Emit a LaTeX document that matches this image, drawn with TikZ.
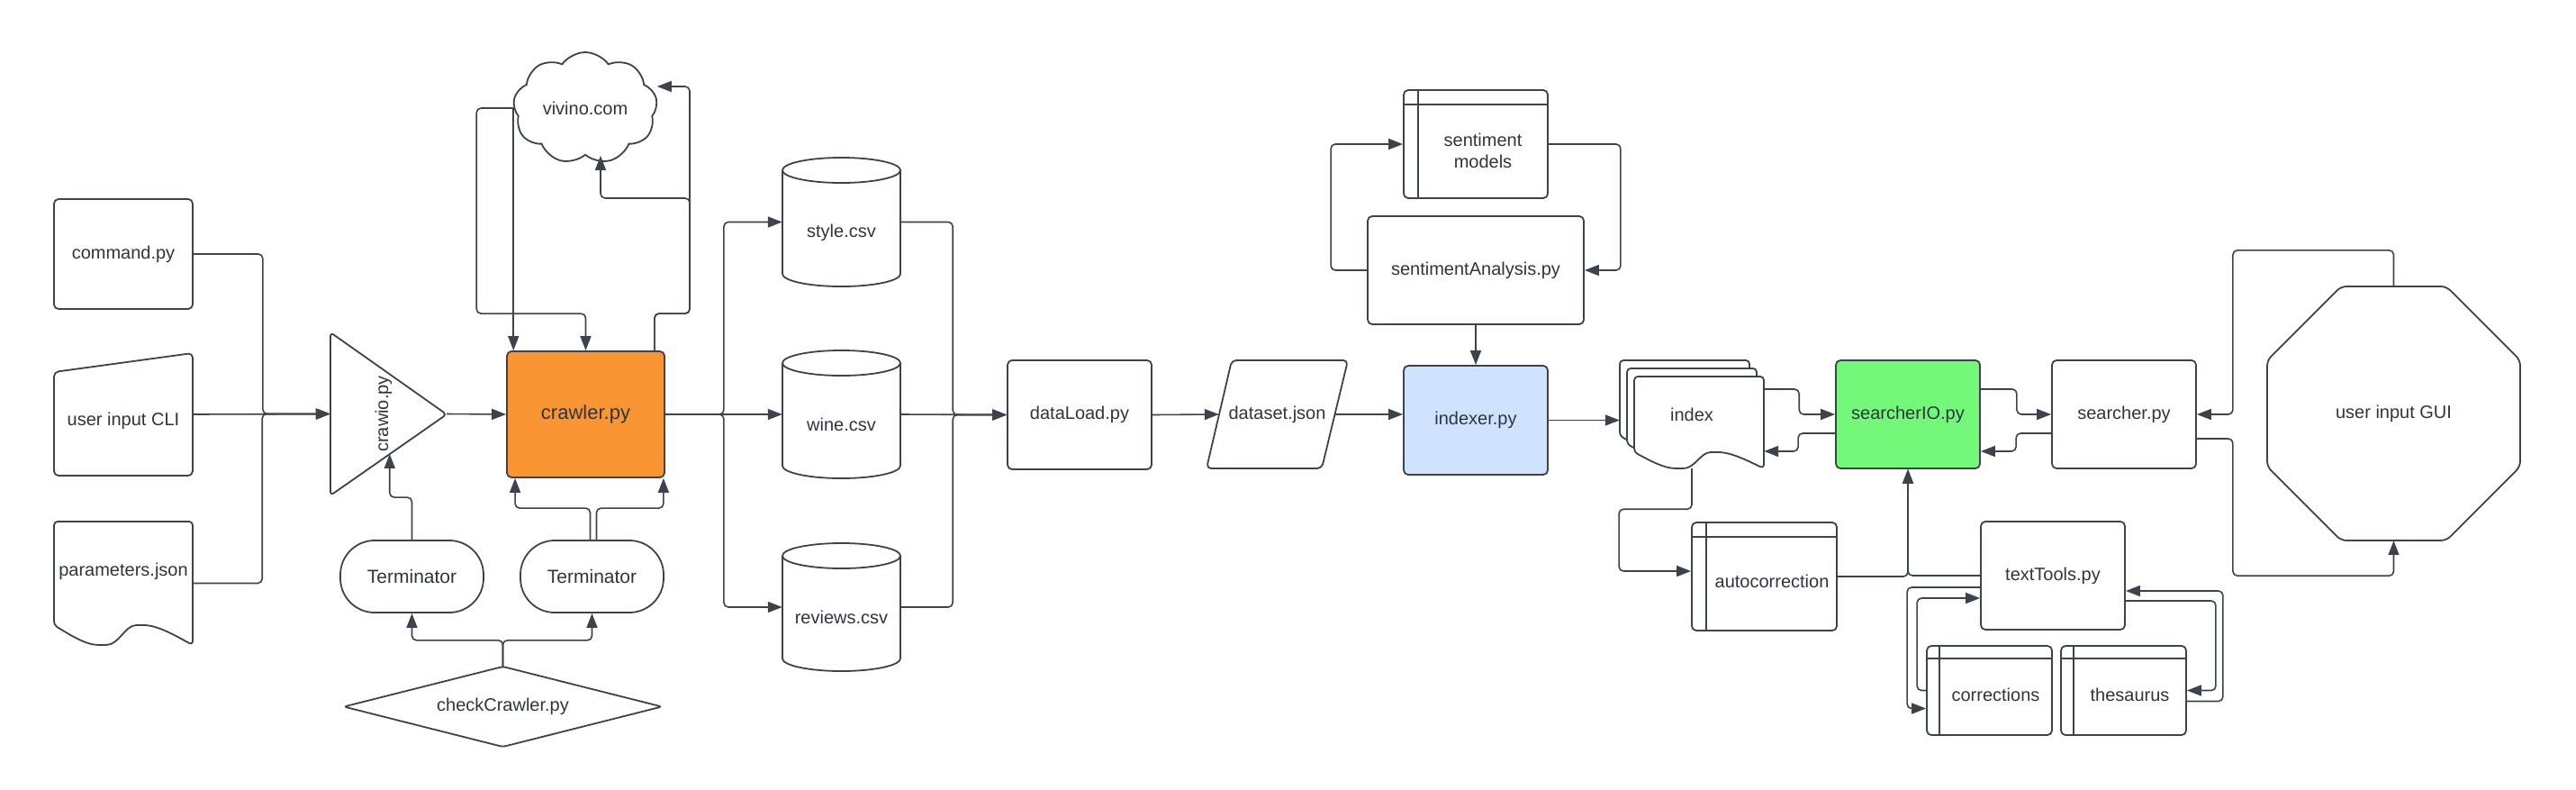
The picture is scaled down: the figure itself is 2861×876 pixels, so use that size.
\documentclass[tikz,border=0pt]{standalone}
\usepackage{fontspec}
\setmainfont{Liberation Sans}
\usetikzlibrary{arrows.meta,shapes.symbols,calc}
\definecolor{lc}{HTML}{3D434C}
\definecolor{tc}{HTML}{2F3540}
\definecolor{orng}{HTML}{F99633}
\definecolor{lblue}{HTML}{CFE2FF}
\definecolor{lgreen}{HTML}{73F87A}
\newcommand\dfont{\fontsize{20}{24}\selectfont}
\newcommand\docshape[5]{%
 \path[shp, rounded corners=4pt] (#1,#2) -- (#1,{#4-#5}) .. controls ({#1+0.13*(#3-#1)},{#4-0.45*#5}) and ({#1+0.23*(#3-#1)},#4) .. ({#1+0.35*(#3-#1)},#4) .. controls ({#1+0.47*(#3-#1)},#4) and ({#1+0.51*(#3-#1)},{#4-#5}) .. ({#1+0.62*(#3-#1)},{#4-#5}) .. controls ({#1+0.75*(#3-#1)},{#4-#5}) and ({#1+0.88*(#3-#1)},{#4-0.45*#5}) .. (#3,#4) -- (#3,#2) -- cycle;}
\newcommand\cyl[5]{%
 \path[shp] (#1,{#2+#5}) -- (#1,{#4-#5}) arc[start angle=180,end angle=0,x radius={(#3-#1)/2},y radius=#5] -- (#3,{#2+#5}) arc[start angle=0,end angle=-180,x radius={(#3-#1)/2},y radius=#5] -- cycle;
 \draw[shpl] (#1,{#2+#5}) arc[start angle=180,end angle=0,x radius={(#3-#1)/2},y radius=#5];}
\begin{document}
\begin{tikzpicture}[x=1pt,y=-1pt,
 shp/.style={draw=lc, line width=1.8pt, fill=white, line join=round},
 shpl/.style={draw=lc, line width=1.8pt},
 ghost/.style={inner sep=0pt, text=tc, font=\dfont, align=center},
 proc/.style={ghost, draw=lc, line width=1.8pt, rounded corners=5pt},
 store/.style={proc, path picture={
   \draw[lc, line width=1.6pt] ([xshift=#1]path picture bounding box.north west) -- ([xshift=#1]path picture bounding box.south west);
   \draw[lc, line width=1.6pt] ([yshift=-#1]path picture bounding box.north west) -- ([yshift=-#1]path picture bounding box.north east);}},
 store/.default=16pt,
 every label/.style={inner sep=0pt, text=tc, font=\dfont, align=center},
 conn/.style={draw=lc, line width=1.6pt, rounded corners=5pt, line join=round, -{Triangle[length=16pt,width=12pt]}}
]
\fill[white] (0,0) rectangle (2861,876);
\useasboundingbox (0,0) rectangle (2861,876);

% ---------- outlines of custom shapes ----------
\path[shp, rounded corners=5pt] (60,413) -- (214,392) -- (214,528) -- (60,528) -- cycle;
\docshape{60}{579}{214}{716}{22}
\path[shp, rounded corners=4pt] (367,369) -- (496,460) -- (367,550) -- cycle;
\path[shp, rounded corners=3pt] (382,784.5) -- (558.5,740) -- (735,784.5) -- (558.5,829) -- cycle;
\cyl{869}{175}{1000}{318}{14}
\cyl{869}{389}{1000}{531}{14}
\cyl{869}{603}{1000}{745}{14}
\path[shp, rounded corners=5pt] (1368,400) -- (1497,400) -- (1468,520) -- (1340,520) -- cycle;
\docshape{1799}{400}{1943}{502}{18}
\docshape{1807}{409}{1951}{511}{18}
\docshape{1815}{418}{1959}{520}{18}
\path[shp, rounded corners=6pt] (2600,318) -- (2717,318) -- (2799,400) -- (2799,518) -- (2717,600) -- (2600,600) -- (2518,518) -- (2518,400) -- cycle;

% ---------- nodes ----------
\node[proc, minimum width=154pt, minimum height=122pt] (command) at (137,282) {command.py};
\node[ghost, minimum width=154pt, minimum height=136pt, label={[yshift=-7pt]center:user input CLI}] (cli) at (137,460) {};
\node[ghost, minimum width=154pt, minimum height=137pt, label={[yshift=13.5pt]center:parameters.json}] (params) at (137,647.5) {};
\node[ghost, minimum width=129pt, minimum height=181pt, label={[xshift=-5.5pt]center:\rotatebox{90}{crawio.py}}] (crawio) at (431.5,459.5) {};
\node[proc, fill=orng, minimum width=175pt, minimum height=140pt, font=\fontsize{22}{26}\selectfont] (crawler) at (650.5,460) {crawler.py};
\node[cloud, draw=lc, line width=1.8pt, cloud puffs=9, cloud puff arc=110, aspect=1.3, minimum width=160pt, minimum height=124pt, inner sep=0pt, text=tc, font=\dfont] (cloud) at (650,120) {vivino.com};
\node[proc, rounded corners=38pt, minimum width=159pt, minimum height=80pt, font=\fontsize{21}{25}\selectfont] (T1) at (457.5,640) {Terminator};
\node[proc, rounded corners=38pt, minimum width=159pt, minimum height=80pt, font=\fontsize{21}{25}\selectfont] (T2) at (657.5,640) {Terminator};
\node[ghost, minimum width=353pt, minimum height=89pt] (check) at (558.5,784.5) {checkCrawler.py};
\node[ghost, minimum width=131pt, minimum height=143pt, label={[yshift=-11.5pt]center:style.csv}] (style) at (934.5,246.5) {};
\node[ghost, minimum width=131pt, minimum height=142pt, label={[yshift=-11pt]center:wine.csv}] (wine) at (934.5,460) {};
\node[ghost, minimum width=131pt, minimum height=142pt, label={[yshift=-11pt]center:reviews.csv}] (reviews) at (934.5,674) {};
\node[proc, minimum width=160pt, minimum height=121pt] (dataLoad) at (1199,460.5) {dataLoad.py};
\node[ghost, minimum width=157pt, minimum height=120pt] (dataset) at (1418.5,460) {dataset.json};
\node[proc, fill=lblue, minimum width=160pt, minimum height=121pt] (indexer) at (1639,466.5) {indexer.py};
\node[proc, minimum width=240pt, minimum height=120pt] (sentA) at (1639,300) {sentimentAnalysis.py};
\node[store, minimum width=160pt, minimum height=120pt, label={[xshift=8pt,yshift=-7pt]center:{sentiment\\models}}] (models) at (1639,160) {};
\node[ghost, minimum width=160pt, minimum height=120pt] (index) at (1879,460) {index};
\node[proc, fill=lgreen, minimum width=160pt, minimum height=120pt] (searcherIO) at (2119,460) {searcherIO.py};
\node[proc, minimum width=160pt, minimum height=120pt] (searcher) at (2359,460) {searcher.py};
\node[ghost, minimum width=281pt, minimum height=282pt] (gui) at (2658.5,459) {user input GUI};
\node[store, minimum width=161pt, minimum height=120pt, label={[xshift=8.5pt,yshift=-5pt]center:autocorrection}] (autocorr) at (1959.5,640) {};
\node[proc, minimum width=160pt, minimum height=120pt] (textTools) at (2280,639) {textTools.py};
\node[store=14pt, minimum width=139pt, minimum height=99pt, label={[xshift=7pt,yshift=-4.5pt]center:corrections}] (corrections) at (2209.5,766.5) {};
\node[store=14pt, minimum width=139pt, minimum height=99pt, label={[xshift=7pt,yshift=-4.5pt]center:thesaurus}] (thesaurus) at (2358.5,766.5) {};

% ---------- connectors ----------
\draw[conn] (command.east) -- ++(77,0) |- (crawio.west);
\draw[conn] (cli.east) -- (crawio.west);
\draw[conn] (params.east) -- ++(77,0) |- (crawio.west);
\draw[conn] (crawio.east) -- (crawler.west);
\draw[conn] (T1.north) -- ++(0,-47) -| ($(crawio.south west)!0.51!(crawio.east)$);
\draw[conn] ([xshift=-2pt]T2.north) -- ++(0,-35) -| ([xshift=10pt]crawler.south west);
\draw[conn] ([xshift=5pt]T2.north) -- ++(0,-35) -| ([xshift=-2pt]crawler.south east);
\draw[conn] (check.north) -- ++(0,-29) -| (T1.south);
\draw[conn] (check.north) -- ++(0,-29) -| (T2.south);
\draw[conn] (cloud.west) -- ++(-41,0) |- ($(crawler.north)+(0,-41)$) -- (crawler.north);
\draw[conn] (cloud.west) -- (cloud.west |- crawler.north);
\draw[conn] ([xshift=-12pt]crawler.north east) -- ++(0,-41) -| (766,96) -- ([yshift=24pt]cloud.east);
\draw[conn] ([xshift=-12pt]crawler.north east) -- ++(0,-41) -| (766,220) -| ([xshift=17pt]cloud.south);
\draw[conn] (crawler.east) -- ++(65,0) |- (style.west);
\draw[conn] (crawler.east) -- (wine.west);
\draw[conn] (crawler.east) -- ++(65,0) |- (reviews.west);
\draw[conn] (style.east) -- ++(58,0) |- (dataLoad.west);
\draw[conn] (wine.east) -- (dataLoad.west);
\draw[conn] (reviews.east) -- ++(58,0) |- (dataLoad.west);
\draw[conn] (dataLoad.east) -- ([xshift=14pt]dataset.west);
\draw[conn] ([xshift=-14pt]dataset.east) -- (dataset.east -| indexer.west);
\draw[conn] (sentA.south) -- (indexer.north);
\draw[conn] (sentA.west) -- ++(-40,0) |- (models.west);
\draw[conn] (models.east) -- ++(80,0) |- (sentA.east);
\draw[conn] (indexer.east) -- (indexer.east -| index.west);
\draw[conn] ([yshift=28pt]index.east) -- ++(39,0) |- (searcherIO.west);
\draw[conn] ([yshift=-21pt]searcherIO.west) -- ++(-41,0) |- ([yshift=-41pt]index.east);
\draw[conn] ([yshift=28pt]searcherIO.east) -- ++(40,0) |- (searcher.west);
\draw[conn] ([yshift=-21pt]searcher.west) -- ++(-39,0) |- ([yshift=-41pt]searcherIO.east);
\draw[conn] (gui.north) -- ++(0,-40) -| ($(searcher.east)+(40,0)$) -- (searcher.east);
\draw[conn] ([yshift=-27pt]searcher.east) -- ++(40,0) |- ($(gui.south)+(0,39)$) -- (gui.south);
\draw[conn] (index.south) -- ++(0,45) -| ([xshift=-80pt,yshift=6pt]autocorr.west) -- ([yshift=6pt]autocorr.west);
\draw[conn] (autocorr.east) -| (searcherIO.south);
\draw[conn] (textTools.west) -| (searcherIO.south);
\draw[conn] ([yshift=-13pt]textTools.west) -- ++(-81,0) |- ([yshift=-20pt]corrections.west);
\draw[conn] (corrections.west) -- ++(-10,0) |- ([yshift=-25pt]textTools.west);
\draw[conn] ([yshift=-28pt]textTools.east) -- ++(100,0) |- (thesaurus.east);
\draw[conn] ([yshift=-12pt]thesaurus.east) -- ++(40,0) |- ([yshift=-17pt]textTools.east);
\end{tikzpicture}
\end{document}
